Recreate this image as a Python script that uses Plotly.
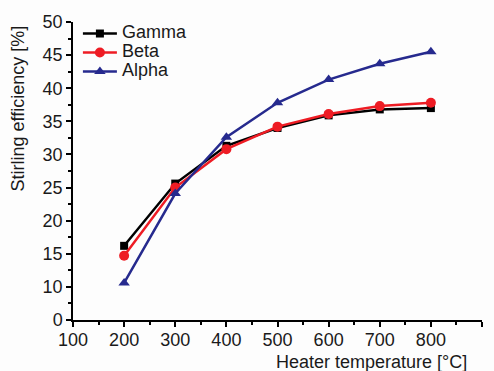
import plotly.graph_objects as go

# Heater temperature (°C)
temperature = [200, 300, 400, 500, 600, 700, 800]

# Stirling efficiency (%) per engine configuration
gamma_eff = [16.2, 25.6, 31.3, 34.0, 35.9, 36.8, 37.0]
beta_eff = [14.7, 25.0, 30.8, 34.2, 36.1, 37.3, 37.8]
alpha_eff = [10.6, 24.1, 32.6, 37.8, 41.3, 43.7, 45.5]

# y axis starts at 5 but its lowest tick is labelled 0
y_tick_vals = [5, 10, 15, 20, 25, 30, 35, 40, 45, 50]
y_tick_text = ["0", "10", "15", "20", "25", "30", "35", "40", "45", "50"]
x_tick_vals = [100, 200, 300, 400, 500, 600, 700, 800, 900]

FONT = "Liberation Sans, Arial, sans-serif"


def legend_label(text):
    # larger label text inside a compact legend row
    return f'<span style="font-size:18px">{text}</span>'


fig = go.Figure()
fig.add_trace(go.Scatter(
    x=temperature, y=gamma_eff, name=legend_label("Gamma"), mode="lines+markers",
    line=dict(color="#000000", width=2.5),
    marker=dict(symbol="square", size=8, color="#000000"),
))
fig.add_trace(go.Scatter(
    x=temperature, y=beta_eff, name=legend_label("Beta"), mode="lines+markers",
    line=dict(color="#ee1c24", width=2.5),
    marker=dict(symbol="circle", size=10, color="#ee1c24"),
))
fig.add_trace(go.Scatter(
    x=temperature, y=alpha_eff, name=legend_label("Alpha"), mode="lines+markers",
    line=dict(color="#262a8e", width=2.5),
    marker=dict(symbol="triangle-up", size=10, color="#262a8e"),
))

axis_common = dict(
    showline=True, linecolor="#000000", linewidth=1.5,
    ticks="outside", ticklen=5, tickwidth=1.5, tickcolor="#000000",
    showgrid=False, zeroline=False, mirror=False,
    tickfont=dict(family=FONT, size=18, color="#1a1a1a"),
)

fig.update_xaxes(
    range=[100, 900], tickmode="array", tickvals=x_tick_vals,
    ticklabelstandoff=-2,
    minor=dict(ticks="outside", ticklen=3, tickwidth=1.5, tickcolor="#000000",
               tickmode="linear", tick0=150, dtick=100),
    **axis_common,
)
fig.update_yaxes(
    range=[5, 50], tickmode="array", tickvals=y_tick_vals, ticktext=y_tick_text,
    minor=dict(ticks="outside", ticklen=3, tickwidth=1.5, tickcolor="#000000",
               tickmode="linear", tick0=7.5, dtick=5),
    **axis_common,
)

fig.add_annotation(
    text="Heater temperature [°C]", xref="paper", yref="paper",
    x=0.729, y=-0.141, xanchor="center", yanchor="middle", showarrow=False,
    font=dict(family=FONT, size=18, color="#1a1a1a"),
)
fig.add_annotation(
    text="Stirling efficiency [%]", xref="paper", yref="paper",
    x=-0.135, y=0.709, xanchor="center", yanchor="middle", showarrow=False,
    textangle=-90, font=dict(family=FONT, size=18, color="#1a1a1a"),
)

fig.update_layout(
    width=494, height=371,
    margin=dict(l=73, r=12, t=18, b=51),
    paper_bgcolor="#fdfdfd", plot_bgcolor="#fdfdfd",
    showlegend=True,
    legend=dict(
        x=0.012, y=1.01, xanchor="left", yanchor="top",
        bgcolor="rgba(0,0,0,0)", borderwidth=0,
        font=dict(family=FONT, size=11, color="#1a1a1a"),
        tracegroupgap=0, itemwidth=34,
    ),
)

fig.write_html("out.html")
